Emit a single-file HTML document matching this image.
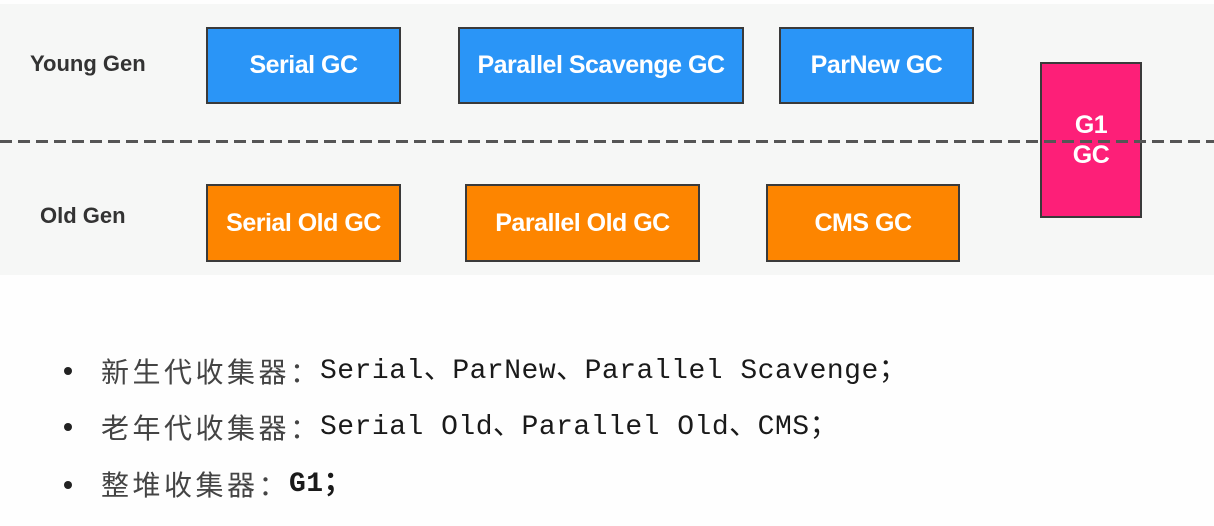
<!DOCTYPE html>
<html><head><meta charset="utf-8"><style>
body{margin:0;width:1214px;height:526px;background:#fefefe;position:relative;overflow:hidden;font-family:"Liberation Sans","Noto Sans CJK SC",sans-serif}
.band{position:absolute;left:0;top:4px;width:1214px;height:271px;background:#f6f7f6}
.box{position:absolute;box-sizing:border-box;border:2px solid #3a3a3a;color:#fff;font-weight:bold;font-size:25px;display:flex;align-items:center;justify-content:center;text-align:center;letter-spacing:-0.5px}
.b{background:#2a95f7}.o{background:#fd8500}
.lab{position:absolute;font-weight:bold;font-size:22px;color:#333}
.dash{position:absolute;left:0;top:140px;width:1214px;height:3px;background:repeating-linear-gradient(90deg,#555 0 12px,transparent 12px 18px)}
.dot{position:absolute;left:64px;width:8px;height:8px;border-radius:50%;background:#222}
.cn{position:absolute;left:101px;font-family:"Noto Sans CJK SC",sans-serif;font-size:28px;color:#444;letter-spacing:3.5px;line-height:40px}
.en{position:absolute;font-family:"Liberation Mono","Noto Sans CJK SC",monospace;font-size:28px;color:#1a1a1a;line-height:40px;letter-spacing:0.5px}
</style></head><body>
<div class="band"></div>
<div class="lab" style="left:30px;top:51px">Young Gen</div>
<div class="lab" style="left:40px;top:203px">Old Gen</div>
<div class="box b" style="left:206px;top:27px;width:195px;height:77px">Serial GC</div>
<div class="box b" style="left:458px;top:27px;width:286px;height:77px">Parallel Scavenge GC</div>
<div class="box b" style="left:779px;top:27px;width:195px;height:77px">ParNew GC</div>
<div class="box o" style="left:206px;top:184px;width:195px;height:78px">Serial Old GC</div>
<div class="box o" style="left:465px;top:184px;width:235px;height:78px">Parallel Old GC</div>
<div class="box o" style="left:766px;top:184px;width:194px;height:78px">CMS GC</div>
<div class="box" style="left:1040px;top:62px;width:102px;height:156px;background:#fd1f78;line-height:30px">G1<br>GC</div>
<div class="dash"></div>

<div class="dot" style="top:367px"></div>
<div class="cn" style="top:351px">新生代收集器：</div>
<div class="en" style="left:320px;top:352px">Serial、ParNew、Parallel Scavenge；</div>

<div class="dot" style="top:423px"></div>
<div class="cn" style="top:407px">老年代收集器：</div>
<div class="en" style="left:320px;top:408px">Serial Old、Parallel Old、CMS；</div>

<div class="dot" style="top:481px"></div>
<div class="cn" style="top:464px">整堆收集器：</div>
<div class="en" style="left:289px;top:465px;font-weight:bold">G1；</div>
</body></html>
